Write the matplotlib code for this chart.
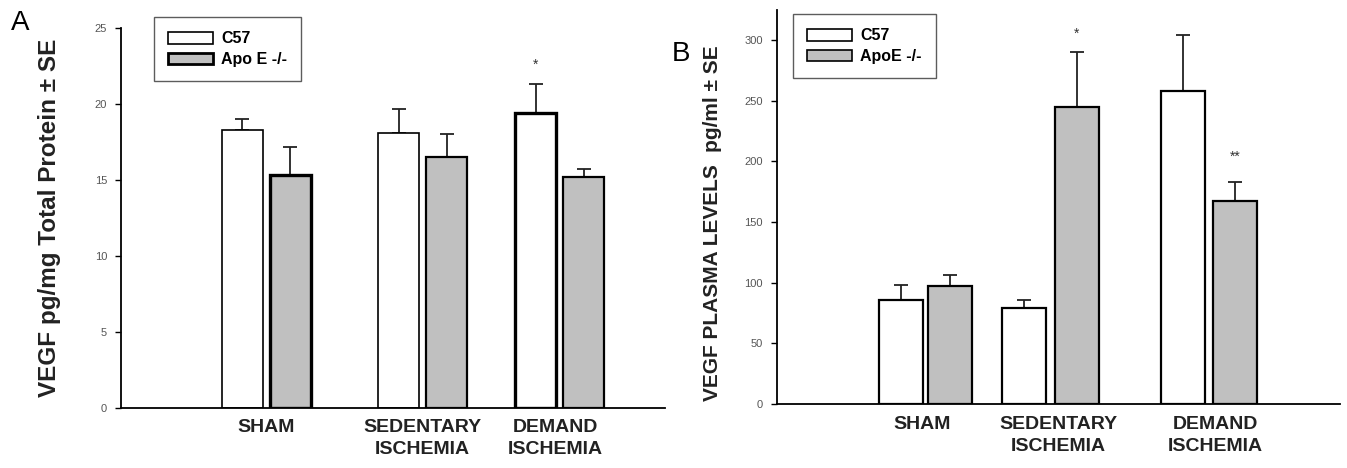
import matplotlib
matplotlib.use("Agg")
import matplotlib.pyplot as plt
from matplotlib.patches import Patch
import numpy as np

plt.rcParams['font.family'] = ['Liberation Sans Narrow', 'Liberation Sans', 'DejaVu Sans']

groups = ["SHAM", "SEDENTARY\nISCHEMIA", "DEMAND\nISCHEMIA"]

# panel A: VEGF pg/mg total protein
a_c57 = [18.3, 18.1, 19.4]
a_c57_se = [0.7, 1.6, 1.9]
a_apoe = [15.3, 16.5, 15.2]
a_apoe_se = [1.9, 1.5, 0.5]

# panel B: VEGF plasma levels pg/ml
b_c57 = [86, 79, 258]
b_c57_se = [12, 7, 46]
b_apoe = [97, 245, 167]
b_apoe_se = [9, 45, 16]

gray = "#c0c0c0"

fig = plt.figure(figsize=(13.47, 4.68), dpi=100)
axA = fig.add_axes([0.0898, 0.1282, 0.4039, 0.812])
axB = fig.add_axes([0.5768, 0.1368, 0.4180, 0.842])


def draw(ax, c57, c57_se, apoe, apoe_se, pos_c57, pos_apoe, width, xmax, ymax, lw_c57, lw_apoe):
    for x, v, lw in zip(pos_c57, c57, lw_c57):
        ax.bar(x, v, width, color="white", edgecolor="black", linewidth=lw, zorder=2)
    for x, v, lw in zip(pos_apoe, apoe, lw_apoe):
        ax.bar(x, v, width, color=gray, edgecolor="black", linewidth=lw, zorder=2)
    ax.errorbar(pos_c57, c57, yerr=[np.zeros(3), c57_se], fmt="none", ecolor="#222222",
                elinewidth=1.3, capsize=5, capthick=1.3, zorder=1)
    ax.errorbar(pos_apoe, apoe, yerr=[np.zeros(3), apoe_se], fmt="none", ecolor="#222222",
                elinewidth=1.3, capsize=5, capthick=1.3, zorder=1)
    ax.set_xlim(0, xmax)
    ax.set_ylim(0, ymax)
    for s in ["top", "right"]:
        ax.spines[s].set_visible(False)
    ax.spines["left"].set_linewidth(1.3)
    ax.spines["bottom"].set_linewidth(1.3)
    ax.set_xticks([])
    ax.tick_params(axis="y", direction="out", length=4, width=1, labelsize=8,
                   labelcolor="#555555", pad=6)


def legend(ax, labels, anchor, lw_apoe):
    ax.legend(handles=[Patch(facecolor="white", edgecolor="black", linewidth=1.2, label=labels[0]),
                       Patch(facecolor=gray, edgecolor="black", linewidth=lw_apoe, label=labels[1])],
              loc="upper left", bbox_to_anchor=anchor, frameon=True, fancybox=False,
              edgecolor="#333333", handlelength=2.8, handleheight=0.75,
              borderpad=0.9, labelspacing=0.35, handletextpad=0.5,
              prop={"weight": "bold", "size": 11.5})


# panel A
draw(axA, a_c57, a_c57_se, a_apoe, a_apoe_se,
     [121.5, 278, 414.5], [169.5, 326, 462.5], 41, 544, 25,
     [1.2, 1.2, 2.4], [2.4, 1.6, 1.6])
axA.set_yticks([0, 5, 10, 15, 20, 25])
axA.text(414.5, 22.6, "*", ha="center", va="center", fontsize=10, color="#333333")
for x, g in zip([145, 301, 434], groups):
    axA.text(x, -0.75, g, ha="center", va="top", fontsize=14, fontweight="bold",
             color="#222222", linespacing=1.35)
legend(axA, ["C57", "Apo E -/-"], (0.046, 1.05), 2)
fig.text(0.037, 0.535, "VEGF pg/mg Total Protein \u00b1 SE", rotation=90, ha="center",
         va="center", fontsize=17.5, fontweight="bold", family=["Liberation Sans", "DejaVu Sans"],
         color="#222222")
fig.text(0.008, 0.95, "A", fontsize=20, ha="left", va="center",
         family=["Liberation Sans", "DejaVu Sans"])

# panel B
draw(axB, b_c57, b_c57_se, b_apoe, b_apoe_se,
     [124, 247.5, 406], [173, 300, 458.5], 44, 563, 325,
     [1.6, 1.6, 1.6], [1.6, 1.6, 1.6])
axB.set_yticks([0, 50, 100, 150, 200, 250, 300])
axB.text(300, 305, "*", ha="center", va="center", fontsize=10, color="#333333")
axB.text(458.5, 204, "**", ha="center", va="center", fontsize=10, color="#333333")
for x, g in zip([145, 281, 438], groups):
    axB.text(x, -10, g, ha="center", va="top", fontsize=14, fontweight="bold",
             color="#222222", linespacing=1.35)
legend(axB, ["C57", "ApoE -/-"], (0.014, 1.01), 1.2)
fig.text(0.529, 0.397, "VEGF PLASMA LEVELS", rotation=90, ha="center", va="center",
         fontsize=15, fontweight="bold", family=["Liberation Sans", "DejaVu Sans"],
         color="#222222")
fig.text(0.529, 0.79, "pg/ml \u00b1 SE", rotation=90, ha="center", va="center",
         fontsize=15, fontweight="bold", family=["Liberation Sans", "DejaVu Sans"],
         color="#222222")
fig.text(0.499, 0.885, "B", fontsize=20, ha="left", va="center",
         family=["Liberation Sans", "DejaVu Sans"])

fig.savefig("out.png", dpi=100)
